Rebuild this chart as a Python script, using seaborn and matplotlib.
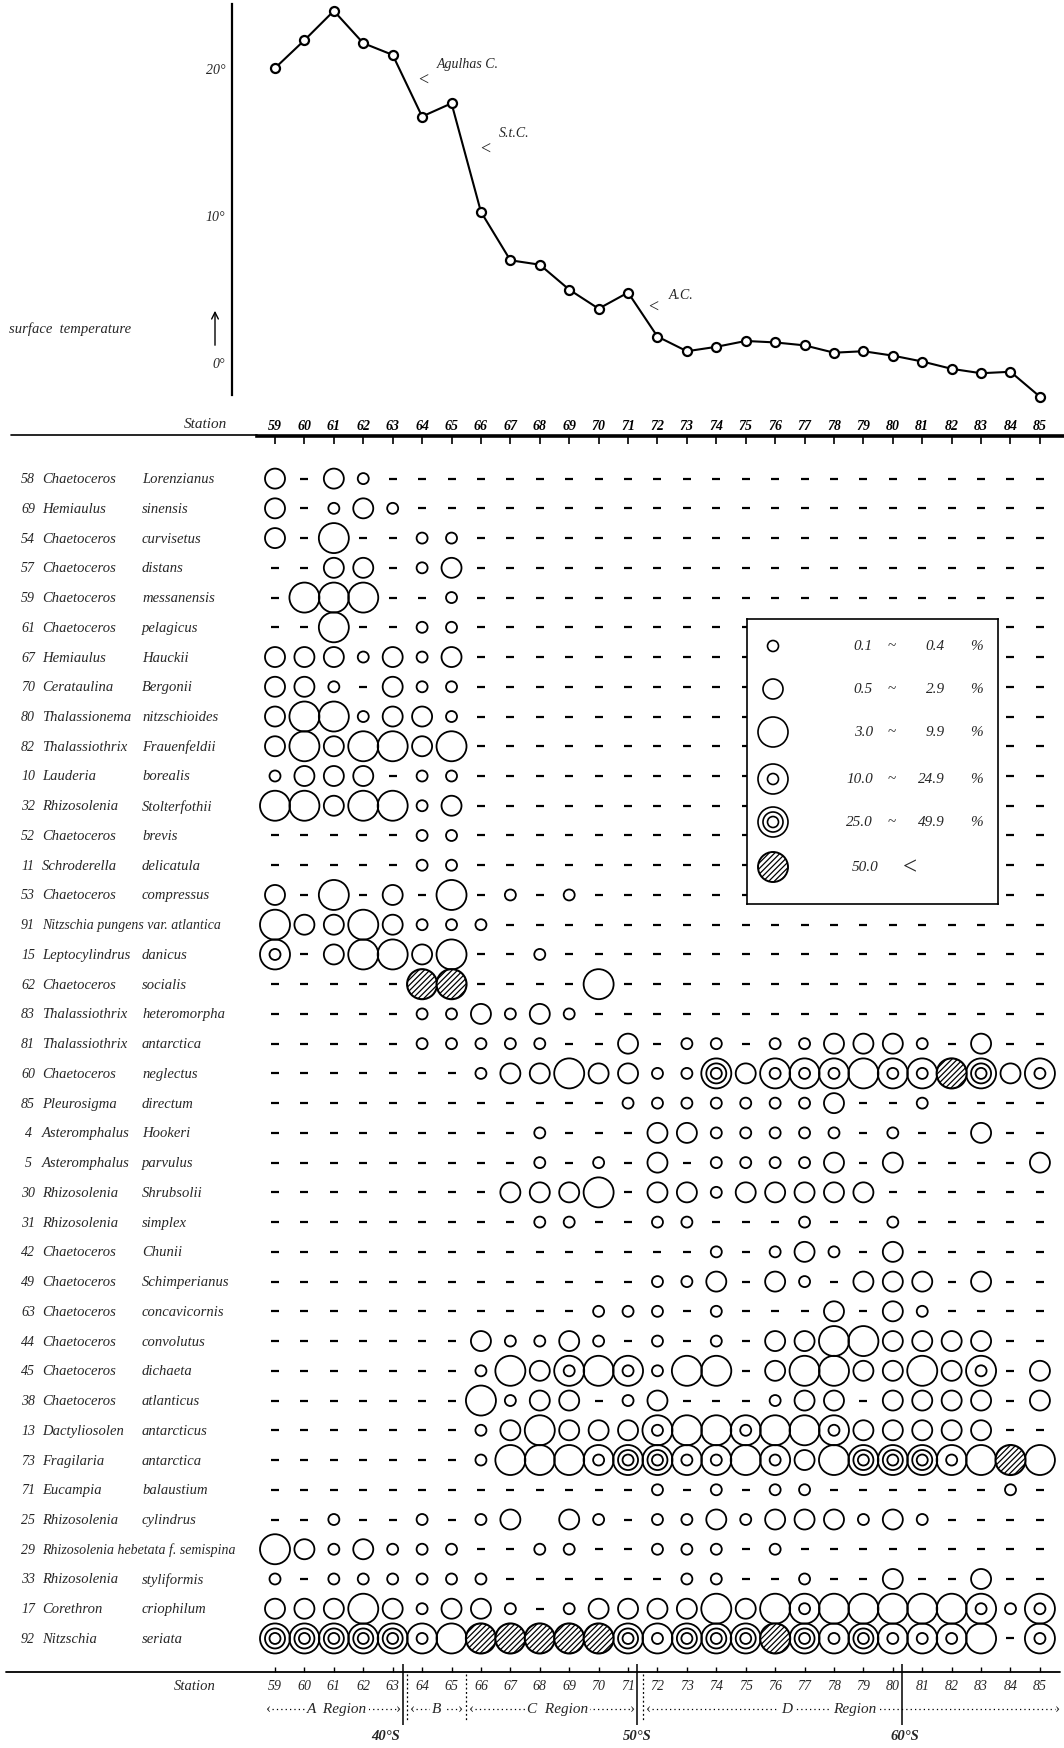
import numpy as np
import pandas as pd
import matplotlib
matplotlib.use("Agg")
import matplotlib.pyplot as plt
import seaborn as sns
from matplotlib.transforms import blended_transform_factory

sns.set_theme(style="white")
plt.rcParams['font.family'] = ['Liberation Serif', 'DejaVu Serif']
plt.rcParams['hatch.linewidth'] = 0.9

# ---------------- data ----------------
stations = list(range(59, 86))
temperature = [20.0, 21.9, 23.9, 21.7, 20.9, 16.7, 17.6, 10.2, 6.9, 6.6, 4.9, 3.6, 4.7,
               1.7, 0.7, 1.0, 1.4, 1.3, 1.1, 0.6, 0.7, 0.4, 0.0, -0.5, -0.8, -0.7, -2.4]

sp_numbers = ["58", "69", "54", "57", "59", "61", "67", "70", "80", "82", "10", "32", "52", "11",
              "53", "91", "15", "62", "83", "81", "60", "85", "4", "5", "30", "31", "42", "49",
              "63", "44", "45", "38", "13", "73", "71", "25", "29", "33", "17", "92"]
genus = ["Chaetoceros", "Hemiaulus", "Chaetoceros", "Chaetoceros", "Chaetoceros", "Chaetoceros",
         "Hemiaulus", "Cerataulina", "Thalassionema", "Thalassiothrix", "Lauderia", "Rhizosolenia",
         "Chaetoceros", "Schroderella", "Chaetoceros", "Nitzschia pungens var. atlantica",
         "Leptocylindrus", "Chaetoceros", "Thalassiothrix", "Thalassiothrix", "Chaetoceros",
         "Pleurosigma", "Asteromphalus", "Asteromphalus", "Rhizosolenia", "Rhizosolenia",
         "Chaetoceros", "Chaetoceros", "Chaetoceros", "Chaetoceros", "Chaetoceros", "Chaetoceros",
         "Dactyliosolen", "Fragilaria", "Eucampia", "Rhizosolenia",
         "Rhizosolenia hebetata f. semispina", "Rhizosolenia", "Corethron", "Nitzschia"]
species = ["Lorenzianus", "sinensis", "curvisetus", "distans", "messanensis", "pelagicus",
           "Hauckii", "Bergonii", "nitzschioides", "Frauenfeldii", "borealis", "Stolterfothii",
           "brevis", "delicatula", "compressus", "", "danicus", "socialis",
           "heteromorpha", "antarctica", "neglectus", "directum", "Hookeri", "parvulus",
           "Shrubsolii", "simplex", "Chunii", "Schimperianus", "concavicornis", "convolutus",
           "dichaeta", "atlanticus", "antarcticus", "antarctica", "balaustium", "cylindrus",
           "", "styliformis", "criophilum", "seriata"]

# abundance class per station 59..85: 0 '-', 1 0.1-0.4, 2 0.5-2.9, 3 3.0-9.9,
# 4 10.0-24.9, 5 25.0-49.9, 6 >=50.0, 9 blank
abundance = [
    "202100000000000000000000000",
    "201210000000000000000000000",
    "203001100000000000000000000",
    "002201200000000000000000000",
    "033300100000000000000000000",
    "003001100000000000000000000",
    "222121200000000000000000000",
    "221021100000000000000000000",
    "233122100000000000000000000",
    "232332300000000000000000000",
    "122201100000000000000000000",
    "332331200000000000000000000",
    "000001100000000000000000000",
    "000001100000000000000000000",
    "203020301010000000000000000",
    "322321110000000000000000000",
    "402332300100000000000000000",
    "000006600003000000000000000",
    "000001121210000000000000000",
    "000001111100201101122210200",
    "000000012232211524443446524",
    "000000000000111111120010000",
    "000000000100022111110100200",
    "000000000101020111120200002",
    "000000002223022122222000000",
    "000000000110011000100100000",
    "000000000000000101210200000",
    "000000000000011202102220200",
    "000000000001110100020210000",
    "000000021121010102233222200",
    "000000013243413302332232402",
    "000000031220120001220222202",
    "000000012322243343342222200",
    "000000013334554434235554363",
    "000000000000010101100000010",
    "001001012921011212221210000",
    "321211100110011101000000000",
    "101111110000001100100200200",
    "222321221012222323433333414",
    "555554366666545556545444304",
]

legend_low = ["0.1", "0.5", "3.0", "10.0", "25.0", "50.0"]
legend_high = ["0.4", "2.9", "9.9", "24.9", "49.9", ""]
legend_codes = [1, 2, 3, 4, 5, 6]

# ---------------- geometry ----------------
W, H = 1064, 1749
px_per_st = 29.42
x0_px = 275.0
row0_px, row_dy = 479.6, 29.74
t0_px, px_per_deg = 362.5, 14.67

def st_of_px(px):
    return 59 + (px - x0_px) / px_per_st

def row_of_px(py):
    return 1 + (py - row0_px) / row_dy

def t_of_px(py):
    return (t0_px - py) / px_per_deg

xlim = (st_of_px(0), st_of_px(W))

def px2pt(d):
    return d * 0.72

fig = plt.figure(figsize=(W / 100, H / 100), dpi=100)
fig.patch.set_facecolor("white")

# ---------------- temperature panel ----------------
axT = fig.add_axes([0, 1 - 437 / H, 1, 437 / H])
axT.set_facecolor("none")
sns.lineplot(x=stations, y=temperature, ax=axT, color="black", lw=1.5, marker="o",
             markersize=6.5, markerfacecolor="white", markeredgecolor="black",
             markeredgewidth=1.6)
axT.set_xlim(*xlim)
axT.set_ylim(t_of_px(437), t_of_px(0))
for s in ["top", "right", "bottom"]:
    axT.spines[s].set_visible(False)
axT.spines["left"].set_position(("data", st_of_px(232)))
axT.spines["left"].set_bounds(t_of_px(396), t_of_px(5))
axT.spines["left"].set_linewidth(1.6)
axT.spines["left"].set_color("black")
axT.set_xticks([])
axT.set_yticks([0, 10, 20])
axT.set_yticklabels(["0°", "10°", "20°"], fontsize=10, style="italic")
axT.tick_params(axis="y", length=0, pad=5)

axT.text(st_of_px(9), t_of_px(329), "surface  temperature", fontsize=10.5, style="italic",
         ha="left", va="center")
axT.annotate("", xy=(st_of_px(215), t_of_px(309)), xytext=(st_of_px(215), t_of_px(349)),
             arrowprops=dict(arrowstyle="->", lw=1.0, color="black"))

notes = [("Agulhas C.", 64.5, 20.3, 64.05, 19.2),
         ("S.t.C.", 66.6, 15.6, 66.15, 14.5),
         ("A.C.", 72.4, 4.6, 71.85, 3.7)]
for label, tx, ty, ax_, ay in notes:
    axT.text(tx, ty, label, fontsize=10, style="italic", ha="left", va="center")
    axT.text(ax_, ay, "<", fontsize=13, ha="center", va="center")

# ---------------- abundance grid ----------------
axG = fig.add_axes([0, 0, 1, (H - 437) / H])
axG.set_facecolor("none")
axG.set_xlim(*xlim)
axG.set_ylim(row_of_px(H), row_of_px(437))

recs = []
for r, codes in enumerate(abundance, start=1):
    for st, c in zip(stations, codes):
        recs.append((st, r, int(c)))
df = pd.DataFrame(recs, columns=["station", "row", "code"])

# dashes
sub = df[df.code == 0]
sns.scatterplot(data=sub, x="station", y="row", marker="_", s=px2pt(8) ** 2, color="black",
                linewidth=1.6, ax=axG, legend=False)

ring_layers = [({3, 4, 5}, 30), ({2, 5}, 20), ({1, 4, 5}, 11)]
for codes_set, diam in ring_layers:
    sub = df[df.code.isin(codes_set)]
    sns.scatterplot(data=sub, x="station", y="row", marker="o", s=px2pt(diam) ** 2,
                    facecolor="none", edgecolor="black", linewidth=1.3, ax=axG, legend=False)
sub = df[df.code == 6]
sns.scatterplot(data=sub, x="station", y="row", marker="o", s=px2pt(30) ** 2,
                facecolor="white", edgecolor="black", hatch="//////", linewidth=1.5,
                ax=axG, legend=False)

for s in ["left", "right", "bottom"]:
    axG.spines[s].set_visible(False)
axG.spines["top"].set_visible(True)
axG.spines["top"].set_linewidth(2.6)
axG.spines["top"].set_color("black")
axG.spines["top"].set_bounds(st_of_px(257), st_of_px(W))
axG.set_yticks([])
axG.set_xticks(stations)
axG.set_xticklabels([str(s) for s in stations], fontsize=10, style="italic", weight="bold")
axG.xaxis.set_ticks_position("top")
axG.tick_params(axis="x", top=True, bottom=False, labeltop=True, labelbottom=False,
                direction="in", length=6, width=1.2, pad=3, colors="black")
axG.set_xlabel("")
axG.set_ylabel("")

trB = blended_transform_factory(axG.transAxes, axG.transData)

# header line and "Station"
axG.plot([11 / W, 257 / W], [row_of_px(436)] * 2, color="black", lw=1.2,
         transform=trB, clip_on=False)
axG.text(205 / W, row_of_px(424), "Station", transform=trB, fontsize=11, style="italic",
         ha="center", va="center")

# species labels
for i in range(len(genus)):
    r = i + 1
    axG.text(28 / W, r, sp_numbers[i], transform=trB, fontsize=10, style="italic",
             ha="center", va="center")
    long_name = species[i] == ""
    axG.text(42 / W, r, genus[i], transform=trB, fontsize=10 if long_name else 10.5,
             style="italic", ha="left", va="center")
    if not long_name:
        axG.text(142 / W, r, species[i], transform=trB, fontsize=10.5, style="italic",
                 ha="left", va="center")

# ---------------- bottom station axis ----------------
rb = row_of_px(1673)
axG.plot([6 / W, 1060 / W], [rb, rb], color="black", lw=1.3, transform=trB, clip_on=False)
axG.vlines(stations, row_of_px(1668), rb, color="black", lw=1.0)
for st in stations:
    axG.text(st, row_of_px(1687), str(st), fontsize=10, style="italic", ha="center",
             va="center")
axG.text(195 / W, row_of_px(1687), "Station", transform=trB, fontsize=10.5, style="italic",
         ha="center", va="center")

for xs in [63.35, 71.3, 80.3]:
    axG.vlines(xs, row_of_px(1665), row_of_px(1726), color="black", lw=1.1)
for xs in [63.5, 65.5, 71.5]:
    axG.vlines(xs, row_of_px(1675), row_of_px(1722), color="black", lw=0.9,
               linestyles=(0, (1.5, 2)))

rr = row_of_px(1710)
segments = [(58.7, 63.3), (63.6, 65.4), (65.6, 71.25), (71.6, 85.7)]
for a, b in segments:
    axG.plot([a + 0.2, b - 0.2], [rr, rr], color="black", lw=0.9, ls=(0, (1, 2.5)))
    axG.text(a, rr, "‹", fontsize=11, ha="left", va="center")
    axG.text(b, rr, "›", fontsize=11, ha="right", va="center")
regions = [("A  Region", 61.1), ("B", 64.5), ("C  Region", 68.6), ("D", 76.4), ("Region", 78.7)]
for lab, xs in regions:
    axG.text(xs, rr, lab, fontsize=11, style="italic", ha="center", va="center",
             bbox=dict(facecolor="white", edgecolor="none", pad=1.5))
for lab, xs in [("40°S", 62.75), ("50°S", 71.3), ("60°S", 80.4)]:
    axG.text(xs, row_of_px(1737), lab, fontsize=10.5, style="italic", weight="bold",
             ha="center", va="center")

# ---------------- legend box ----------------
axL = fig.add_axes([747 / W, 1 - 905 / H, 251 / W, 285 / H], zorder=5)
axL.set_facecolor("white")
axL.set_xlim(747, 998)
axL.set_ylim(905, 620)
axL.set_xticks([])
axL.set_yticks([])
for s in axL.spines.values():
    s.set_visible(True)
    s.set_color("black")
    s.set_linewidth(1.2)

leg_y = [647, 690, 733, 780, 823, 868]
leg = pd.DataFrame({"x": [773] * 6, "y": leg_y, "code": legend_codes})
for codes_set, diam in ring_layers:
    sub = leg[leg.code.isin(codes_set)]
    sns.scatterplot(data=sub, x="x", y="y", marker="o", s=px2pt(diam) ** 2,
                    facecolor="none", edgecolor="black", linewidth=1.2, ax=axL, legend=False)
sub = leg[leg.code == 6]
sns.scatterplot(data=sub, x="x", y="y", marker="o", s=px2pt(30) ** 2, facecolor="white",
                edgecolor="black", hatch="//////", linewidth=1.4, ax=axL, legend=False)
axL.set_xlabel("")
axL.set_ylabel("")
for y, lo, hi in zip(leg_y, legend_low, legend_high):
    if hi:
        axL.text(873, y, lo, fontsize=11, style="italic", ha="right", va="center")
        axL.text(892, y, "~", fontsize=11, ha="center", va="center")
        axL.text(945, y, hi, fontsize=11, style="italic", ha="right", va="center")
        axL.text(977, y, "%", fontsize=11, style="italic", ha="center", va="center")
    else:
        axL.text(879, y, lo, fontsize=11, style="italic", ha="right", va="center")
        axL.text(910, y, "<", fontsize=18, ha="center", va="center")

fig.savefig("out.png", dpi=100, facecolor="white")
